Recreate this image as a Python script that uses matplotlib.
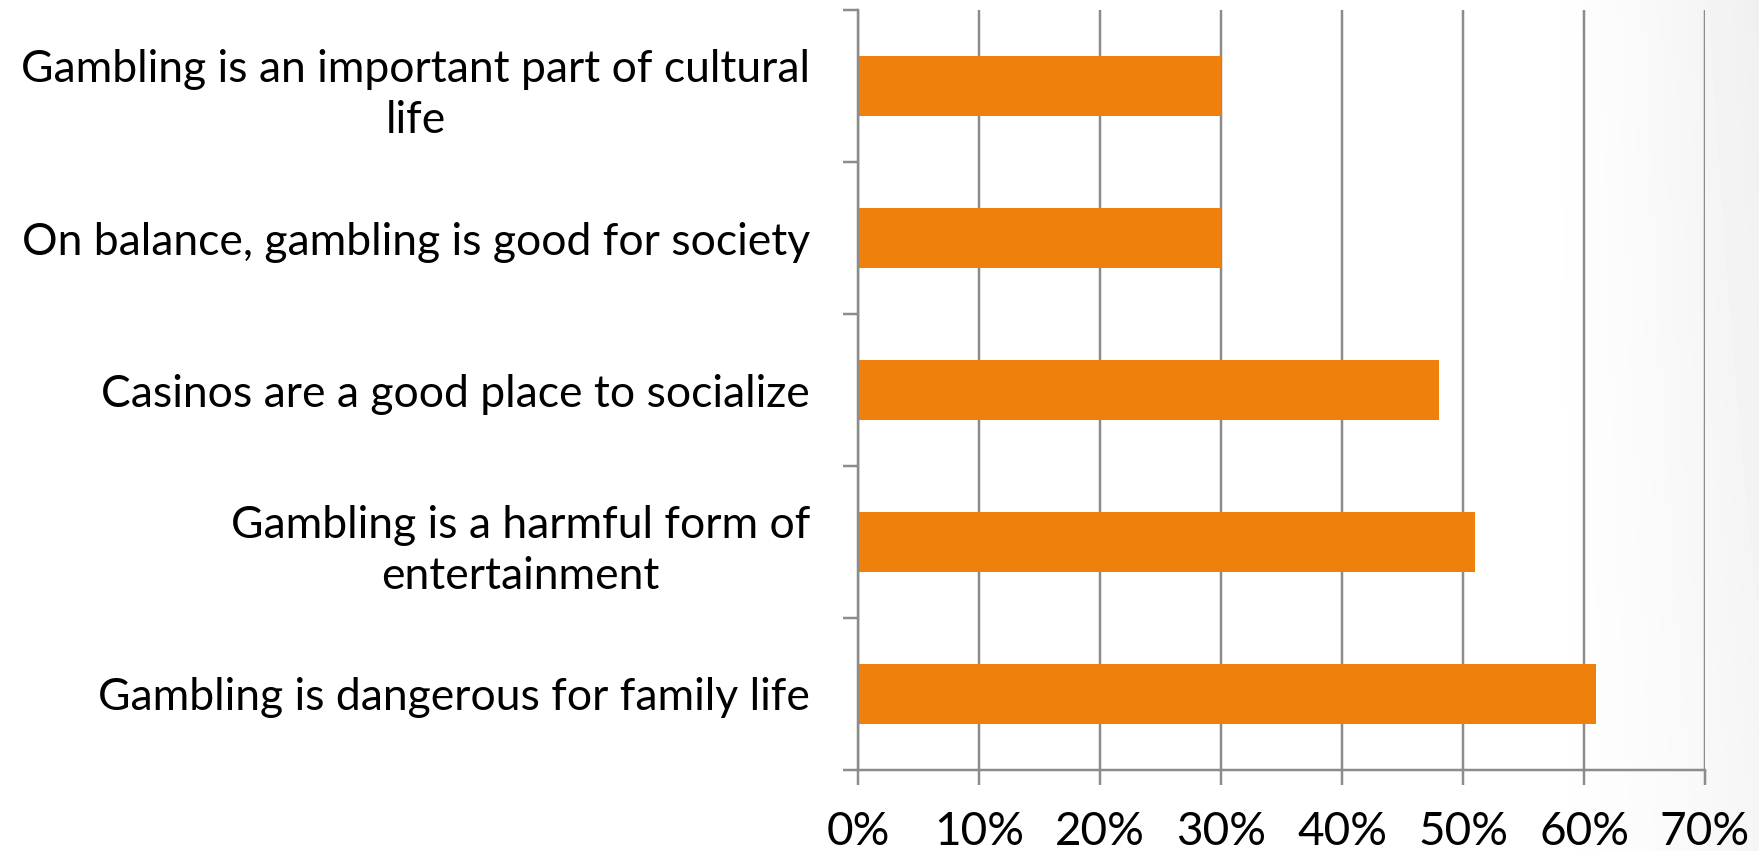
import numpy as np
import matplotlib
matplotlib.use("Agg")
import matplotlib.pyplot as plt
from matplotlib.ticker import FixedLocator, FuncFormatter

# Survey statements (top to bottom) and share of respondents agreeing
statements = [
    "Gambling is an important part of cultural\nlife",
    "On balance, gambling is good for society",
    "Casinos are a good place to socialize",
    "Gambling is a harmful form of\nentertainment",
    "Gambling is dangerous for family life",
]
agree_share = [0.30, 0.30, 0.48, 0.51, 0.61]
x_ticks = [0.0, 0.1, 0.2, 0.3, 0.4, 0.5, 0.6, 0.7]

BAR_COLOR = "#EF800B"
GRID_COLOR = "#8C8C8C"
FONT = ["Lato", "DejaVu Sans"]

W, H, DPI = 1759, 851, 100
fig = plt.figure(figsize=(W / DPI, H / DPI), dpi=DPI)
fig.patch.set_facecolor("white")

# Soft grey shading towards the right edge of the slide
bg = fig.add_axes([0, 0, 1, 1], zorder=-10)
xs = np.linspace(0, 1, 400)
ys = np.linspace(0, 1, 200)
X, Y = np.meshgrid(xs, ys)
shade = np.clip((X - 0.87) / 0.13, 0, 1) ** 1.4 * 0.06 * (0.6 + 0.4 * Y)
bg.imshow(1 - shade, cmap="gray", vmin=0, vmax=1, extent=[0, 1, 0, 1],
          aspect="auto", origin="lower", interpolation="bilinear")
bg.set_axis_off()

px = 72 / DPI  # points per pixel
ax = fig.add_axes([858 / W, 1 - 770 / H, (1705 - 858) / W, (770 - 10) / H])
ax.set_facecolor("none")

pos = np.arange(len(statements))
ax.barh(pos, agree_share, height=0.4, color=BAR_COLOR, zorder=3)

ax.set_xlim(0, 0.7)
ax.set_ylim(len(statements) - 0.5, -0.5)

ax.xaxis.set_major_locator(FixedLocator(x_ticks))
ax.xaxis.set_major_formatter(FuncFormatter(lambda v, _: f"{v * 100:.0f}%"))
ax.grid(axis="x", color=GRID_COLOR, linewidth=2.5 * px, zorder=1)
ax.grid(axis="y", visible=False)

ax.set_yticks(pos)
ax.set_yticklabels(statements, fontsize=32, family=FONT,
                   multialignment="center", linespacing=1.3)
ax.yaxis.set_minor_locator(FixedLocator(np.arange(-0.5, len(statements), 1.0)))
ax.tick_params(axis="y", which="major", length=0, pad=48 * px)
ax.tick_params(axis="y", which="minor", length=15 * px, width=2.5 * px,
               color=GRID_COLOR, direction="out")
ax.tick_params(axis="x", which="major", length=15 * px, width=2.5 * px,
               color=GRID_COLOR, direction="out", pad=26 * px, labelsize=33)
for lab in ax.get_xticklabels():
    lab.set_family(FONT)

for side in ("top", "right"):
    ax.spines[side].set_visible(False)
for side in ("left", "bottom"):
    ax.spines[side].set_color(GRID_COLOR)
    ax.spines[side].set_linewidth(2.5 * px)
    ax.spines[side].set_zorder(4)

fig.savefig("out.png", dpi=DPI)
